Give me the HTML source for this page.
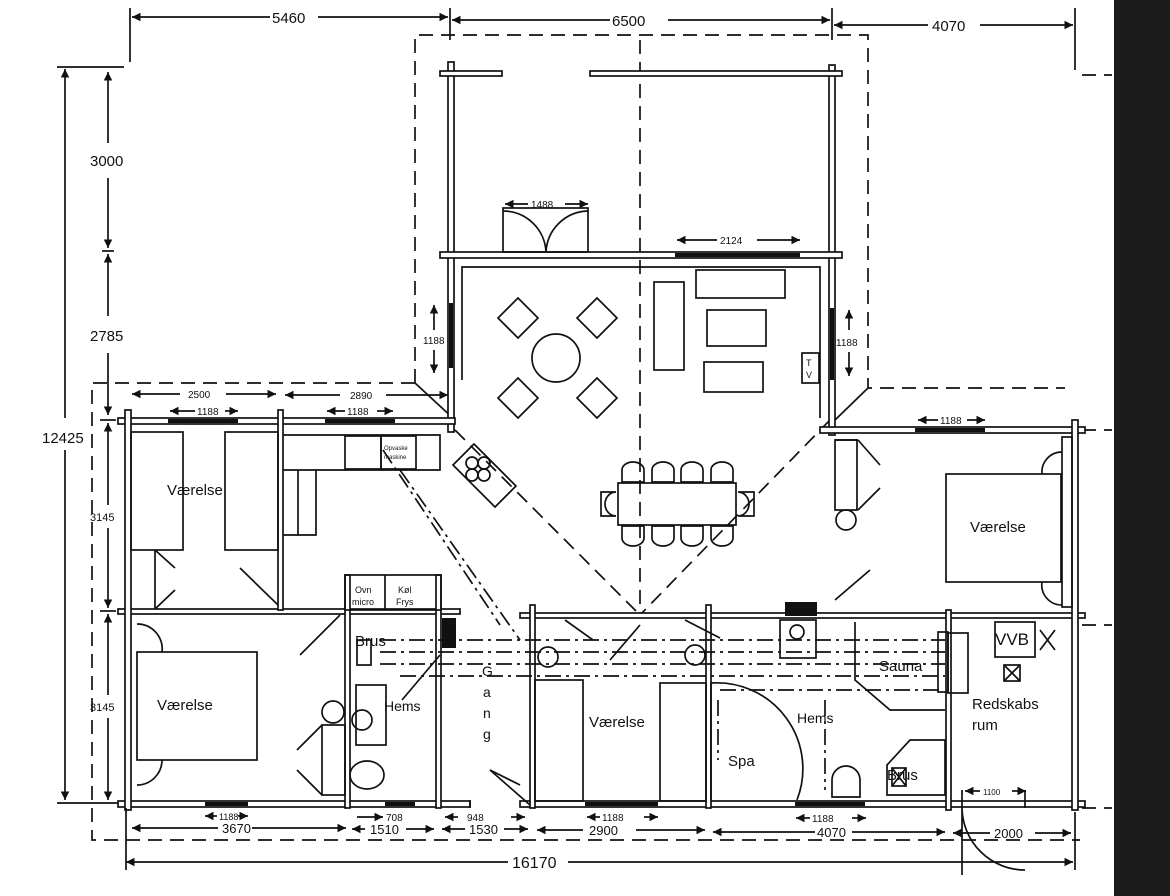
<!DOCTYPE html>
<html><head><meta charset="utf-8">
<style>
html,body{margin:0;padding:0;background:#fff;}
svg{display:block;}
text{font-family:"Liberation Sans",sans-serif;fill:#111;}
g[stroke]{stroke-width:1.7px;}
</style></head>
<body>
<svg width="1170" height="896" viewBox="0 0 1170 896" xmlns="http://www.w3.org/2000/svg">
<defs>
<marker id="a" viewBox="0 0 10 10" refX="10" refY="5" markerWidth="7" markerHeight="5" orient="auto-start-reverse"><path d="M0,0 L10,5 L0,10 z" fill="#111"/></marker>
</defs>
<rect width="1170" height="896" fill="#fff"/>
<rect x="1114" y="0" width="56" height="896" fill="#1b1b1b"/>

<g stroke="#111" stroke-width="1.3" fill="none">
<line x1="130" y1="8" x2="130" y2="62"/><line x1="450" y1="8" x2="450" y2="40"/><line x1="832" y1="8" x2="832" y2="40"/><line x1="1075" y1="8" x2="1075" y2="70"/>
<line x1="132" y1="17" x2="270" y2="17" marker-start="url(#a)"/><line x1="318" y1="17" x2="448" y2="17" marker-end="url(#a)"/>
<line x1="452" y1="20" x2="610" y2="20" marker-start="url(#a)"/><line x1="668" y1="20" x2="830" y2="20" marker-end="url(#a)"/>
<line x1="834" y1="25" x2="928" y2="25" marker-start="url(#a)"/><line x1="980" y1="25" x2="1073" y2="25" marker-end="url(#a)"/>
<line x1="57" y1="67" x2="124" y2="67"/>
<line x1="65" y1="69" x2="65" y2="418" marker-start="url(#a)"/><line x1="65" y1="450" x2="65" y2="800" marker-end="url(#a)"/>
<line x1="57" y1="803" x2="120" y2="803"/>
<line x1="108" y1="72" x2="108" y2="143" marker-start="url(#a)"/><line x1="108" y1="178" x2="108" y2="248" marker-end="url(#a)"/>
<line x1="102" y1="251" x2="114" y2="251"/>
<line x1="108" y1="254" x2="108" y2="316" marker-start="url(#a)"/><line x1="108" y1="353" x2="108" y2="415" marker-end="url(#a)"/>
<line x1="100" y1="420" x2="116" y2="420"/>
<line x1="108" y1="423" x2="108" y2="505" marker-start="url(#a)"/><line x1="108" y1="528" x2="108" y2="608" marker-end="url(#a)"/>
<line x1="100" y1="611" x2="116" y2="611"/>
<line x1="108" y1="614" x2="108" y2="695" marker-start="url(#a)"/><line x1="108" y1="718" x2="108" y2="800" marker-end="url(#a)"/>
</g>
<g font-size="15">
<text x="272" y="23">5460</text><text x="612" y="26">6500</text><text x="932" y="31">4070</text>
<text x="90" y="166">3000</text><text x="90" y="341">2785</text><text x="42" y="443">12425</text>
</g>
<g font-size="11"><text x="90" y="521">3145</text><text x="90" y="711">3145</text></g>

<g stroke="#111" stroke-width="1.3" fill="none" stroke-dasharray="14,8">
<polyline points="415,383 415,35 868,35 868,388 1065,388"/>
<polyline points="415,383 92,383 92,840 1080,840"/>
<line x1="640" y1="40" x2="640" y2="615"/>
<line x1="455" y1="430" x2="640" y2="615"/>
<line x1="830" y1="420" x2="640" y2="615"/>
<line x1="1082" y1="75" x2="1112" y2="75"/><line x1="1082" y1="430" x2="1112" y2="430"/><line x1="1082" y1="625" x2="1112" y2="625"/><line x1="1082" y1="808" x2="1112" y2="808"/>
</g>
<g stroke="#111" stroke-width="1.3">
<line x1="415" y1="383" x2="455" y2="420"/>
<line x1="868" y1="388" x2="835" y2="420"/>
</g>

<g stroke="#111" stroke-width="1.4" fill="#fff">
<rect x="448" y="62" width="6" height="370"/>
<rect x="829" y="65" width="6" height="370"/>
<rect x="440" y="71" width="62" height="5"/>
<rect x="590" y="71" width="252" height="5"/>
<rect x="440" y="252" width="402" height="6"/>
<rect x="118" y="418" width="337" height="6"/>
<rect x="820" y="427" width="265" height="6"/>
<rect x="118" y="609" width="342" height="5"/>
<rect x="520" y="613" width="565" height="5"/>
<rect x="118" y="801" width="352" height="6"/>
<rect x="520" y="801" width="565" height="6"/>
<rect x="125" y="410" width="6" height="400"/>
<rect x="278" y="410" width="5" height="200"/>
<rect x="1072" y="420" width="6" height="390"/>
<rect x="530" y="605" width="5" height="203"/>
<rect x="706" y="605" width="5" height="203"/>
<rect x="946" y="610" width="5" height="200"/>
<rect x="345" y="575" width="5" height="233"/>
<rect x="436" y="575" width="5" height="233"/>
</g>
<g fill="#111">
<rect x="168" y="419" width="70" height="4"/><rect x="325" y="419" width="70" height="4"/>
<rect x="915" y="428" width="70" height="4"/>
<rect x="675" y="253" width="125" height="4"/>
<rect x="449" y="303" width="4" height="65"/><rect x="830" y="308" width="4" height="72"/>
<rect x="205" y="802" width="43" height="4"/><rect x="385" y="802" width="30" height="4"/><rect x="585" y="802" width="73" height="4"/><rect x="795" y="802" width="70" height="4"/>
<rect x="442" y="618" width="14" height="30"/><rect x="785" y="602" width="32" height="14"/>
</g>

<g stroke="#111" stroke-width="1" fill="none">
<line x1="170" y1="411" x2="195" y2="411" marker-start="url(#a)"/><line x1="225" y1="411" x2="238" y2="411" marker-end="url(#a)"/>
<line x1="327" y1="411" x2="345" y2="411" marker-start="url(#a)"/><line x1="377" y1="411" x2="393" y2="411" marker-end="url(#a)"/>
<line x1="132" y1="394" x2="180" y2="394" marker-start="url(#a)"/><line x1="226" y1="394" x2="276" y2="394" marker-end="url(#a)"/>
<line x1="285" y1="395" x2="340" y2="395" marker-start="url(#a)"/><line x1="386" y1="395" x2="448" y2="395" marker-end="url(#a)"/>
<line x1="918" y1="420" x2="938" y2="420" marker-start="url(#a)"/><line x1="967" y1="420" x2="985" y2="420" marker-end="url(#a)"/>
<line x1="505" y1="204" x2="528" y2="204" marker-start="url(#a)"/><line x1="565" y1="204" x2="588" y2="204" marker-end="url(#a)"/>
<line x1="677" y1="240" x2="717" y2="240" marker-start="url(#a)"/><line x1="757" y1="240" x2="800" y2="240" marker-end="url(#a)"/>
<line x1="434" y1="305" x2="434" y2="330" marker-start="url(#a)"/><line x1="434" y1="350" x2="434" y2="373" marker-end="url(#a)"/>
<line x1="849" y1="310" x2="849" y2="330" marker-start="url(#a)"/><line x1="849" y1="352" x2="849" y2="376" marker-end="url(#a)"/>
<line x1="205" y1="816" x2="217" y2="816" marker-start="url(#a)"/><line x1="238" y1="816" x2="248" y2="816" marker-end="url(#a)"/>
<line x1="357" y1="817" x2="383" y2="817" marker-end="url(#a)"/>
<line x1="445" y1="817" x2="458" y2="817" marker-start="url(#a)"/><line x1="511" y1="817" x2="525" y2="817" marker-end="url(#a)"/>
<line x1="587" y1="817" x2="600" y2="817" marker-start="url(#a)"/><line x1="644" y1="817" x2="658" y2="817" marker-end="url(#a)"/>
<line x1="796" y1="818" x2="810" y2="818" marker-start="url(#a)"/><line x1="852" y1="818" x2="866" y2="818" marker-end="url(#a)"/>
<line x1="965" y1="791" x2="980" y2="791" marker-start="url(#a)"/><line x1="1012" y1="791" x2="1026" y2="791" marker-end="url(#a)"/>
<line x1="132" y1="828" x2="218" y2="828" marker-start="url(#a)"/><line x1="252" y1="828" x2="346" y2="828" marker-end="url(#a)"/>
<line x1="352" y1="829" x2="365" y2="829" marker-start="url(#a)"/><line x1="406" y1="829" x2="434" y2="829" marker-end="url(#a)"/>
<line x1="442" y1="829" x2="465" y2="829" marker-start="url(#a)"/><line x1="504" y1="829" x2="528" y2="829" marker-end="url(#a)"/>
<line x1="537" y1="830" x2="583" y2="830" marker-start="url(#a)"/><line x1="636" y1="830" x2="705" y2="830" marker-end="url(#a)"/>
<line x1="713" y1="832" x2="815" y2="832" marker-start="url(#a)"/><line x1="852" y1="832" x2="945" y2="832" marker-end="url(#a)"/>
<line x1="953" y1="833" x2="990" y2="833" marker-start="url(#a)"/><line x1="1035" y1="833" x2="1071" y2="833" marker-end="url(#a)"/>
<line x1="126" y1="862" x2="508" y2="862" marker-start="url(#a)"/><line x1="568" y1="862" x2="1073" y2="862" marker-end="url(#a)"/>
<line x1="126" y1="808" x2="126" y2="870"/><line x1="1075" y1="812" x2="1075" y2="870"/>
</g>
<g font-size="10">
<text x="188" y="398">2500</text><text x="350" y="399">2890</text>
<text x="197" y="415">1188</text><text x="347" y="415">1188</text><text x="940" y="424">1188</text>
<text x="531" y="208">1488</text><text x="720" y="244">2124</text>
<text x="423" y="344">1188</text><text x="836" y="346">1188</text>
<text x="219" y="820" font-size="9">1188</text><text x="386" y="821">708</text><text x="467" y="821">948</text><text x="602" y="821">1188</text><text x="812" y="822">1188</text>
<text x="983" y="795" font-size="8">1100</text>
</g>
<g font-size="13">
<text x="222" y="833">3670</text><text x="370" y="834">1510</text><text x="469" y="834">1530</text><text x="589" y="835">2900</text><text x="817" y="837">4070</text><text x="994" y="838">2000</text>
</g>
<text x="512" y="868" font-size="16">16170</text>

<g stroke="#111" stroke-width="1.4" fill="none">
<polyline points="462,380 462,267 820,267 820,418"/>
<rect x="503" y="208" width="85" height="44"/>
<path d="M503,211 A43,43 0 0 1 546,252 M588,211 A43,43 0 0 0 546,252"/>
<circle cx="556" cy="358" r="24"/>
<polygon points="518,298 538,318 518,338 498,318"/>
<polygon points="597,298 617,318 597,338 577,318"/>
<polygon points="518,378 538,398 518,418 498,398"/>
<polygon points="597,378 617,398 597,418 577,398"/>
<rect x="654" y="282" width="30" height="88"/>
<rect x="696" y="270" width="89" height="28"/>
<rect x="707" y="310" width="59" height="36"/>
<rect x="704" y="362" width="59" height="30"/>
<rect x="802" y="353" width="17" height="30"/>
<rect x="618" y="483" width="118" height="42"/>
<path d="M622,482 L622,470 A11,8 0 0 1 644,470 L644,482 Z M652,482 L652,470 A11,8 0 0 1 674,470 L674,482 Z M681,482 L681,470 A11,8 0 0 1 703,470 L703,482 Z M711,482 L711,470 A11,8 0 0 1 733,470 L733,482 Z"/>
<path d="M622,526 L622,538 A11,8 0 0 0 644,538 L644,526 Z M652,526 L652,538 A11,8 0 0 0 674,538 L674,526 Z M681,526 L681,538 A11,8 0 0 0 703,538 L703,526 Z M711,526 L711,538 A11,8 0 0 0 733,538 L733,526 Z"/>
<path d="M616,492 L601,492 L601,516 L616,516 M616,492 A11,12 0 0 0 616,516"/>
<path d="M738,492 L754,492 L754,516 L738,516 M738,492 A11,12 0 0 1 738,516"/>
<polygon points="453,465 474,444 516,486 495,507"/>
<circle cx="472" cy="463" r="6"/><circle cx="484" cy="463" r="6"/><circle cx="472" cy="475" r="6"/><circle cx="484" cy="475" r="6"/>
<polyline points="283,435 440,435 440,470 316,470 316,535 283,535"/>
<line x1="283" y1="470" x2="316" y2="470"/><line x1="298" y1="470" x2="298" y2="535"/>
<rect x="345" y="436" width="36" height="33"/><rect x="381" y="436" width="35" height="33"/>
<rect x="131" y="432" width="52" height="118"/><rect x="225" y="432" width="53" height="118"/>
<line x1="155" y1="550" x2="155" y2="609"/>
<line x1="155" y1="550" x2="175" y2="568"/><line x1="155" y1="609" x2="175" y2="590"/>
<line x1="240" y1="568" x2="278" y2="605"/>
<rect x="137" y="652" width="120" height="108"/>
<path d="M137,624 A25,25 0 0 1 162,652 M137,785 A25,25 0 0 0 162,760"/>
<line x1="300" y1="655" x2="340" y2="615"/>
<rect x="322" y="725" width="23" height="70"/>
<line x1="297" y1="750" x2="322" y2="725"/><line x1="297" y1="770" x2="322" y2="795"/>
<circle cx="333" cy="712" r="11"/>
<rect x="345" y="575" width="96" height="35"/><line x1="385" y1="575" x2="385" y2="610"/>
<rect x="356" y="685" width="30" height="60"/>
<circle cx="362" cy="720" r="10"/>
<ellipse cx="367" cy="775" rx="17" ry="14"/>
<rect x="357" y="640" width="14" height="25"/>
<line x1="402" y1="700" x2="440" y2="655"/>
<line x1="520" y1="785" x2="490" y2="770"/><line x1="470" y1="800" x2="470" y2="808"/>
<rect x="535" y="680" width="48" height="121"/><rect x="660" y="683" width="46" height="118"/>
<line x1="490" y1="770" x2="530" y2="805"/>
<line x1="593" y1="640" x2="565" y2="620"/><line x1="610" y1="660" x2="640" y2="625"/>
<line x1="720" y1="638" x2="685" y2="620"/>
<circle cx="548" cy="657" r="10"/><circle cx="695" cy="655" r="10"/>
<line x1="835" y1="440" x2="858" y2="440"/><rect x="835" y="440" width="22" height="70"/>
<line x1="858" y1="440" x2="880" y2="465"/><line x1="858" y1="510" x2="880" y2="488"/>
<circle cx="846" cy="520" r="10"/>
<line x1="835" y1="600" x2="870" y2="570"/>
<rect x="946" y="474" width="115" height="108"/>
<path d="M1062,452 A20,20 0 0 0 1042,474 M1062,605 A20,20 0 0 1 1042,582"/>
<rect x="1062" y="437" width="10" height="170"/>
<path d="M711,683 A86,86 0 0 1 797,800"/>
<line x1="711" y1="683" x2="711" y2="800"/>
<polyline points="855,622 855,680 890,710 945,710"/>
<rect x="938" y="632" width="10" height="60"/>
<polygon points="887,795 887,765 910,740 945,740 945,795"/>
<path d="M832,797 L832,780 A14,14 0 0 1 860,780 L860,797 Z"/>
<rect x="995" y="622" width="40" height="35"/>
<path d="M1040,630 L1055,650 M1055,630 L1040,650"/>
<rect x="1004" y="665" width="16" height="16"/><path d="M1004,665 L1020,681 M1020,665 L1004,681"/>
<rect x="892" y="768" width="14" height="18"/><path d="M892,768 L906,786 M906,768 L892,786"/>
<rect x="780" y="620" width="36" height="38"/>
<circle cx="797" cy="632" r="7"/>
<path d="M1025,808 L1025,790 M962,808 A63,63 0 0 0 1025,870 M962,790 L962,875"/>
<rect x="948" y="633" width="20" height="60"/>
</g>
<g stroke="#111" stroke-width="1.2" fill="none" stroke-dasharray="16,5,3,5">
<line x1="380" y1="640" x2="945" y2="640"/>
<line x1="380" y1="652" x2="945" y2="652"/>
<line x1="380" y1="664" x2="945" y2="664"/>
<line x1="400" y1="676" x2="945" y2="676"/>
<line x1="720" y1="690" x2="940" y2="690"/>
<line x1="383" y1="450" x2="500" y2="625"/>
<line x1="400" y1="470" x2="520" y2="640"/>
<line x1="718" y1="700" x2="718" y2="760"/>
<line x1="825" y1="700" x2="825" y2="790"/>
</g>

<g font-size="15">
<text x="167" y="495">Værelse</text>
<text x="970" y="532">Værelse</text>
<text x="157" y="710">Værelse</text>
<text x="589" y="727">Værelse</text>
<text x="355" y="646">Brus</text>
<text x="887" y="780">Brus</text>
<text x="879" y="671">Sauna</text>
<text x="728" y="766">Spa</text>
<text x="972" y="709">Redskabs</text>
<text x="972" y="730">rum</text>
<text x="995" y="645" font-size="17">VVB</text>
</g>
<g font-size="14">
<text x="384" y="711">Hems</text><text x="797" y="723">Hems</text>
<text x="482" y="676">G</text><text x="483" y="697">a</text><text x="483" y="718">n</text><text x="483" y="739">g</text>
</g>
<g font-size="9">
<text x="355" y="593">Ovn</text><text x="352" y="605">micro</text>
<text x="398" y="593">Køl</text><text x="396" y="605">Frys</text>
<text x="806" y="366">T</text><text x="806" y="378">V</text>
<text x="384" y="450" font-size="6">Opvaske</text><text x="384" y="459" font-size="6">maskine</text>
</g>
</svg>
</body></html>
